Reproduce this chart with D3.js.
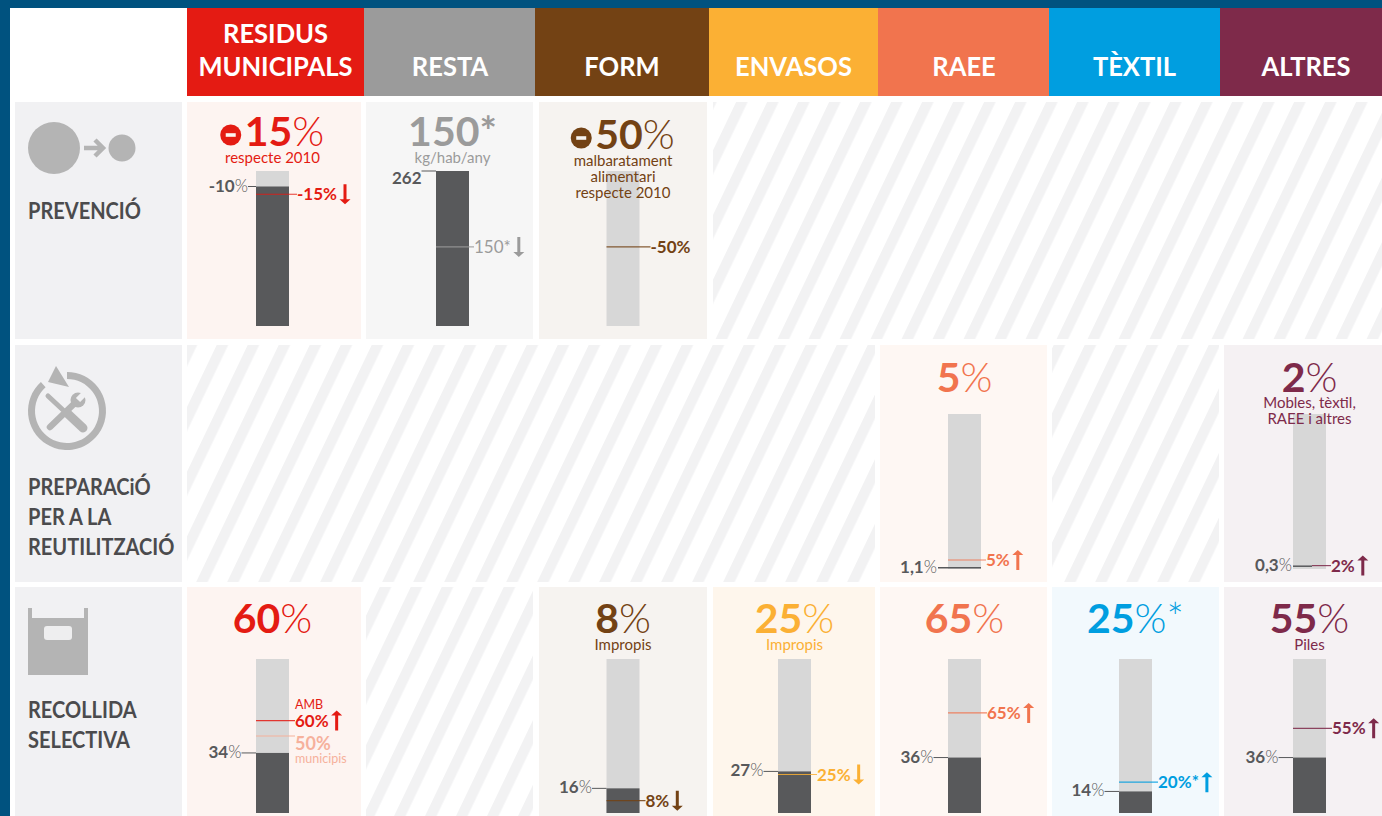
<!DOCTYPE html>
<html><head><meta charset="utf-8">
<script src="https://cdn.jsdelivr.net/npm/d3@7"></script>
<style>html,body{margin:0;padding:0;background:#fff;overflow:hidden}svg{display:block}text{font-family:Lato,"Noto Sans",sans-serif}</style>
</head><body><div id="c"></div>
<script>
const categories=[["RESIDUS","MUNICIPALS"],["RESTA"],["FORM"],["ENVASOS"],["RAEE"],["TÈXTIL"],["ALTRES"]];
const categoryColors=["#e41b13","#9b9b9b","#734214","#fbb034","#f1744e","#009ee0","#7e2a4a"];
const cellTints=["#fdf4f1","#f6f6f6","#f6f3f0","#fef6ec","#fef7f3","#f2f9fd","#f5f1f3"];
const rowNames=[["PREVENCIÓ"],["PREPARACiÓ","PER A LA","REUTILITZACIÓ"],["RECOLLIDA","SELECTIVA"]];
// value actually drawn on each gauge (percentage of bar height)
const baseValues=[[90,100,0,null,null,null,null],[null,null,null,null,0.8,null,1.8],[39,null,16,27,36,14,36]];
const targetValues=[[85,51,51,null,null,null,null],[null,null,null,null,5.8,null,2.2],[60,null,8,25,65,20,55]];
const secondTargetValues=[[null,null,null,null,null,null,null],[null,null,null,null,null,null,null],[50,null,null,null,null,null,null]];
const baseLabels=[[["-10","%"],["262",""],null,null,null,null,null],[null,null,null,null,["1,1","%"],null,["0,3","%"]],[["34","%"],null,["16","%"],["27","%"],["36","%"],["14","%"],["36","%"]]];
const targetLabels=[["-15%","150*","-50%",null,null,null,null],[null,null,null,null,"5%",null,"2%"],["60%",null,"8%","25%","65%","20%*","55%"]];
const targetArrows=[[-1,-1,0,0,0,0,0],[0,0,0,0,1,0,1],[1,0,-1,-1,1,1,1]];
const headNumbers=[["15","150","50",null,null,null,null],[null,null,null,null,"5",null,"2"],["60",null,"8","25","65","25","55"]];
const headSuffix=[["%","*","%",null,null,null,null],[null,null,null,null,"%",null,"%"],["%",null,"%","%","%","%*","%"]];
const headMinus=[[1,0,1,0,0,0,0],[0,0,0,0,0,0,0],[0,0,0,0,0,0,0]];
const headNotes=[[["respecte 2010"],["kg/hab/any"],["malbaratament","alimentari","respecte 2010"],null,null,null,null],
 [null,null,null,null,[],null,["Mobles, tèxtil,","RAEE i altres"]],
 [[],null,["Impropis"],["Impropis"],[],[],["Piles"]]];

const W=1382,H=816;
const svg=d3.select("#c").append("svg").attr("width",W).attr("height",H);
svg.append("rect").attr("width",W).attr("height",H).attr("fill","#00527f");
svg.append("rect").attr("x",10).attr("y",8).attr("width",W-10).attr("height",H-8).attr("fill","#fff");

const colEdges=[187,364,535,709,878,1049,1220,1382];
const headCx=[275.5,450,622,793.5,964,1134.5,1306];
const cellX=[[187,361],[366,533],[539,707],[713,875],[880,1047],[1052,1219],[1224,1382]];
const rowY=[[102,339],[345,582],[587,816]];
const barCx=[272.5,452.5,623,794.5,964.5,1135.5,1309.5];
const barTop=[171,414,659],barBottom=[326,569,813],barW=33;
const ink="#58595b",track="#d7d7d7",iconC="#b4b4b4",panel="#f1f1f3";

const pat=svg.append("defs").append("pattern").attr("id","hatch").attr("patternUnits","userSpaceOnUse")
 .attr("width",31).attr("height",40).attr("patternTransform","skewX(-25.6) translate(10,0)");
pat.append("rect").attr("width",11.5).attr("height",40).attr("fill","#f2f2f3");

function squeeze(sel,f){const n=sel.node();sel.attr("textLength",n.getComputedTextLength()*f).attr("lengthAdjust","spacingAndGlyphs");return sel;}

// header
categories.forEach((c,i)=>{
 svg.append("rect").attr("x",colEdges[i]).attr("y",8).attr("width",colEdges[i+1]-colEdges[i]).attr("height",88).attr("fill",categoryColors[i]);
 c.forEach((t,j)=>squeeze(svg.append("text").attr("x",headCx[i]).attr("y",76-(c.length-1-j)*33)
  .attr("text-anchor","middle").attr("fill","#fff").attr("font-weight",700).attr("font-size",27).text(t),.945));
});
// row label panels
rowNames.forEach((r,i)=>{
 svg.append("rect").attr("x",15).attr("y",rowY[i][0]).attr("width",167).attr("height",rowY[i][1]-rowY[i][0]).attr("fill",panel);
 const base=[219,495,718][i];
 r.forEach((t,j)=>squeeze(svg.append("text").attr("x",28).attr("y",base+j*30).attr("fill","#4b4b4d").attr("font-weight",700).attr("font-size",23).text(t),.87));
});
// icons
const ic=svg.append("g").attr("fill",iconC);
ic.append("circle").attr("cx",54).attr("cy",148).attr("r",26);
ic.append("circle").attr("cx",122).attr("cy",148).attr("r",13.5);
ic.append("path").attr("d","M84 148H102M95 140L103 148L95 156").attr("fill","none").attr("stroke",iconC).attr("stroke-width",4.5);
const arc=d3.arc()({innerRadius:32,outerRadius:39,startAngle:0,endAngle:(360-42)*Math.PI/180});
ic.append("path").attr("transform","translate(67,411)").attr("d",arc);
ic.append("path").attr("d","M56 366L48 382L69 387Z");
ic.append("path").attr("d","M48 396L63 410").attr("stroke",iconC).attr("stroke-width",5).attr("stroke-linecap","round");
ic.append("path").attr("d","M67 413L83 428").attr("stroke",iconC).attr("stroke-width",9).attr("stroke-linecap","round");
ic.append("path").attr("d","M50 427L78 400").attr("stroke",iconC).attr("stroke-width",6.5).attr("stroke-linecap","round");
ic.append("circle").attr("cx",78).attr("cy",400).attr("r",7.5);
ic.append("path").attr("d","M78 400L87 391").attr("stroke",panel).attr("stroke-width",6);
ic.append("path").attr("d","M28 608H32V618H84V608H88V675H28Z");
ic.append("rect").attr("x",44).attr("y",626).attr("width",28).attr("height",14).attr("rx",3).attr("fill","#eeeeef");

function arrowPath(x,y,dir){
 const h=10,s=dir,n=y-s*(h-5);
 return `M${x-1.5} ${y+s*h}V${n}L${x-5.5} ${n}L${x} ${y-s*h}L${x+5.5} ${n}L${x+1.5} ${n}V${y+s*h}Z`;
}
function numPct(g,x,y,parts,anchor,size){
 const t=g.append("text").attr("x",x).attr("y",y).attr("text-anchor",anchor).attr("font-size",size).attr("fill",ink);
 t.append("tspan").attr("font-weight",700).text(parts[0]);
 t.append("tspan").attr("font-weight",300).text(parts[1]);
 return t;
}
// hatched empty regions: consecutive cells without a target form one region
rowNames.forEach((rn,r)=>{
 let start=null;
 categories.forEach((cat,c)=>{
  const empty=headNumbers[r][c]==null;
  if(empty&&start==null) start=c;
  if(empty&&(c==categories.length-1||headNumbers[r][c+1]!=null)){
   svg.append("rect").attr("x",cellX[start][0]).attr("y",rowY[r][0]).attr("width",cellX[c][1]-cellX[start][0])
    .attr("height",rowY[r][1]-rowY[r][0]).attr("fill","url(#hatch)");
   start=null;
  }
 });
});
// cells
rowNames.forEach((rn,r)=>{
 const y=d3.scaleLinear().domain([0,100]).range([barBottom[r],barTop[r]]);
 categories.forEach((cat,c)=>{
  if(headNumbers[r][c]==null) return;
  const [x0,x1]=cellX[c],[y0,y1]=rowY[r];
  const g=svg.append("g"),col=categoryColors[c],cx=barCx[c];
  g.append("rect").attr("x",x0).attr("y",y0).attr("width",x1-x0).attr("height",y1-y0).attr("fill",cellTints[c]);
  const bl=cx-barW/2,br=cx+barW/2;
  g.append("rect").attr("x",bl).attr("y",barTop[r]).attr("width",barW).attr("height",barBottom[r]-barTop[r]).attr("fill",track);
  const bv=baseValues[r][c];
  if(bv>0&&r!=1) g.append("rect").attr("x",bl).attr("y",y(bv)).attr("width",barW).attr("height",y(0)-y(bv)).attr("fill",ink);
  // base label
  const bLab=baseLabels[r][c];
  if(bLab){
   const yy=y(bv), isTop=bLab[1]==="";
   const gap=r==1?(c==4?11:1):(r==0&&c==0?8:14.5);
   const lx1=r==1?(c==4?bl-10:bl):bl-gap, lx2=r==1?(c==4?br:bl+19):bl;
   g.append("line").attr("x1",lx1).attr("x2",lx2).attr("y1",yy).attr("y2",yy).attr("stroke",ink).attr("stroke-width",r==1?1.5:1);
   numPct(g,bl-gap,yy+(isTop?13:5),bLab,"end",17);
  }
  // target label
  const tv=targetValues[r][c];
  const ty=y(tv);
  const tOff=(r==0&&c==0)?8:(r==0&&c==2)?11:(r==0&&c==1)||r==1?5:6;
  g.append("line").attr("x1",(r==1&&c==6)?bl+19:bl).attr("x2",br+tOff).attr("y1",ty).attr("y2",ty).attr("stroke",col).attr("stroke-width",1.2).attr("opacity",.85);
  const tl=g.append("text").attr("x",br+tOff).attr("y",ty+6).attr("font-size",17).attr("font-weight",c==1?400:700).attr("fill",col).text(targetLabels[r][c]);
  const ad=targetArrows[r][c];
  if(ad) g.append("path").attr("d",arrowPath(br+tOff+tl.node().getComputedTextLength()+8,ty,ad)).attr("fill",col);
  // headline
  const by=[146,392,633][r]+(r==0&&c==2?3:0);
  const head=g.append("text").attr("y",by).attr("font-size",41).attr("fill",col);
  head.append("tspan").attr("font-weight",700).text(headNumbers[r][c]);
  head.append("tspan").attr("font-weight",headSuffix[r][c]=="*"?700:300).text(headSuffix[r][c]);
  const w=head.node().getComputedTextLength(),m=headMinus[r][c]?24:0;
  const hx=cx-(w+m)/2;
  head.attr("x",hx+m);
  if(m){
   g.append("circle").attr("cx",hx+10).attr("cy",by-11).attr("r",10.5).attr("fill",col);
   g.append("rect").attr("x",hx+5).attr("y",by-12.8).attr("width",10).attr("height",3.6).attr("fill",cellTints[c]);
  }
  const noteBase=[163,408,650][r]+(r==0&&c==2?3:0);
  headNotes[r][c].forEach((t,j)=>g.append("text").attr("x",cx).attr("y",noteBase+j*16).attr("text-anchor","middle")
   .attr("font-size",15).attr("fill",col).text(t));
  // second target
  const sv=secondTargetValues[r][c];
  if(sv!=null){
   const sy=y(sv),lc="#f6b19c";
   g.append("line").attr("x1",bl).attr("x2",br+6).attr("y1",sy).attr("y2",sy).attr("stroke",lc).attr("stroke-width",1.2);
   g.append("text").attr("x",br+6).attr("y",sy+14).attr("font-size",18).attr("font-weight",700).attr("fill",lc).text("50%");
   g.append("text").attr("x",br+6).attr("y",sy+27).attr("font-size",12.5).attr("fill",lc).text("municipis");
   g.append("text").attr("x",br+6).attr("y",ty-12).attr("font-size",12.5).attr("fill",col).text("AMB");
  }
 });
});
</script></body></html>
